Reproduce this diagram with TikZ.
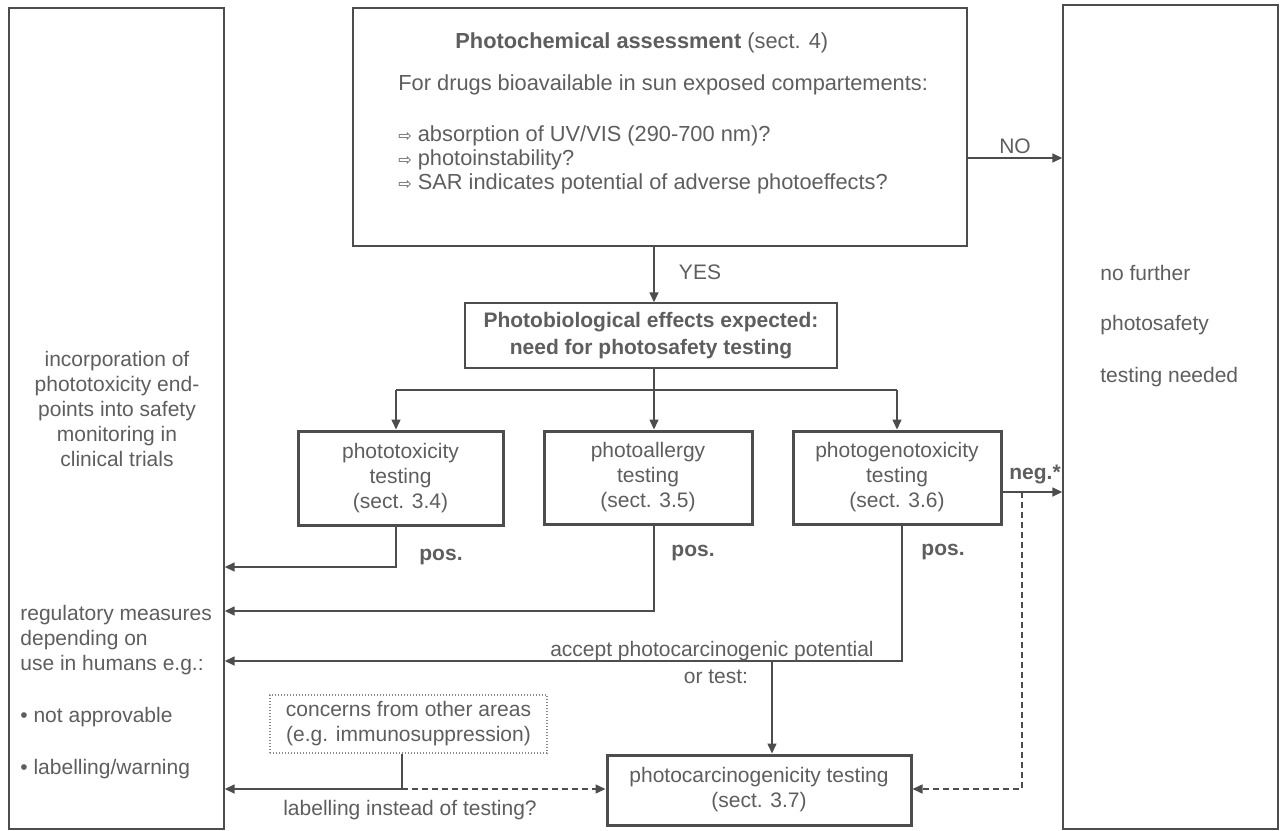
\documentclass[tikz,border=0pt]{standalone}
\usepackage{fontspec}
\setmainfont{Liberation Sans}
\newfontfamily\dejavu{DejaVu Sans}
\usetikzlibrary{arrows.meta}
\definecolor{ln}{HTML}{4D4D4D}
\definecolor{tx}{HTML}{5E5E5E}
\definecolor{dt}{HTML}{8A8A8A}
\begin{document}
\begin{tikzpicture}[x=0.5pt,y=-0.5pt,
  every node/.style={font=\fontsize{10.5}{12.5}\selectfont, text=tx, inner sep=0pt},
  box/.style={draw=ln, line width=0.7pt},
  tbox/.style={draw=ln, line width=1.5pt, align=center},
  dotbox/.style={draw=dt, line width=0.6pt, dash pattern=on 0.6pt off 0.9pt, align=center},
  conn/.style={draw=ln, line width=0.75pt},
  arr/.style={conn, -{Triangle[length=5pt,width=4.5pt]}},
  darr/.style={arr, dash pattern=on 3pt off 2pt},
  lbl/.style={font=\fontsize{10.5}{12.5}\selectfont\bfseries},
  bul/.style={anchor=west},
  top/.style={anchor=west, font=\fontsize{10.9}{12.5}\selectfont},
]
\useasboundingbox[fill=white] (0,0) rectangle (1282,831);

% main boxes
\node[box, minimum width=107.5pt, minimum height=410.5pt] (L) at (116.5,418.5) {};
\node[box, minimum width=107.5pt, minimum height=412pt] (R) at (1170.5,417) {};
\node[box, minimum width=307pt, minimum height=119pt] (T) at (660,127) {};
\node[box, minimum width=186pt, minimum height=32.5pt, align=center, font=\fontsize{10.5}{13.5}\selectfont\bfseries] (P) at (651,335.5) {Photobiological effects expected:\\need for photosafety testing};
\node[tbox, minimum width=102.5pt, minimum height=47pt] (A) at (400.5,478) {phototoxicity\\testing\\(sect. 3.4)};
\node[tbox, minimum width=104pt, minimum height=46.5pt] (B) at (648,477.5) {photoallergy\\testing\\(sect. 3.5)};
\node[tbox, minimum width=104pt, minimum height=46.5pt] (C) at (897,477.5) {photogenotoxicity\\testing\\(sect. 3.6)};
\node[tbox, minimum width=152pt, minimum height=35pt] (D) at (759,790) {photocarcinogenicity testing\\(sect. 3.7)};
\node[dotbox, minimum width=138.5pt, minimum height=29pt] (E) at (408.5,724) {concerns from other areas\\(e.g. immunosuppression)};

% top box text
\node[top] (t1) at (455,43) {\textbf{Photochemical assessment} (sect. 4)};
\node[top] (t2) at (398,85) {For drugs bioavailable in sun exposed compartements:};
\node[top] (t3) at (398,136) {{\dejavu\fontsize{8}{10}\selectfont ⇨} absorption of UV/VIS (290-700 nm)?};
\node[top] (t4) at (398,160) {{\dejavu\fontsize{8}{10}\selectfont ⇨} photoinstability?};
\node[top] (t5) at (398,184) {{\dejavu\fontsize{8}{10}\selectfont ⇨} SAR indicates potential of adverse photoeffects?};

% left box text
\node[align=center] (l1) at (117,409) {incorporation of\\phototoxicity end-\\points into safety\\monitoring in\\clinical trials};
\node[bul] (l2) at (20,615) {regulatory measures};
\node[bul] (l3) at (20,640) {depending on};
\node[bul] (l4) at (20,665) {use in humans e.g.:};
\node[bul] (l5) at (20,717) {\textbullet{} not approvable};
\node[bul] (l6) at (20,769) {\textbullet{} labelling/warning};

% right box text
\node[bul] (r1) at (1100,273) {no further};
\node[bul] (r2) at (1100,325) {photosafety};
\node[bul] (r3) at (1100,377) {testing needed};

% coordinates
\coordinate (yno) at (0,158);
\coordinate (xyes) at (654,0);
\coordinate (split) at (654,390);
\coordinate (sa) at (396,390);
\coordinate (sc) at (897,390);
\coordinate (pa) at (396,567);
\coordinate (pb) at (654,611);
\coordinate (pc) at (902,661);
\coordinate (pd) at (772,661);
\coordinate (ng) at (0,492);
\coordinate (nd) at (1022,492);
\coordinate (ce) at (402,789);

% connectors
\draw[arr] (T.east |- yno) -- (R.west |- yno);
\draw[arr] (T.south -| xyes) -- (P.north -| xyes);
\draw[conn] (P.south -| split) -- (split);
\draw[conn] (sa) -- (sc);
\draw[arr] (sa) -- (A.north -| sa);
\draw[arr] (split) -- (B.north -| split);
\draw[arr] (sc) -- (C.north -| sc);
\draw[arr] (A.south -| pa) |- (L.east |- pa);
\draw[arr] (B.south -| pb) |- (L.east |- pb);
\draw[arr] (C.south -| pc) |- (L.east |- pc);
\draw[arr] (pd) -- (D.north -| pd);
\draw[arr] (C.east |- ng) -- (R.west |- ng);
\draw[darr] (nd) |- (D.east |- ce);
\draw[conn] (E.south -| ce) -- (ce);
\draw[arr] (ce) -- (L.east |- ce);
\draw[darr] (ce) -- (D.west |- ce);

% labels
\node (no) at (1015,146) {NO};
\node (yes) at (700,272) {YES};
\node[lbl] (pos1) at (441,557) {pos.};
\node[lbl] (pos2) at (693,553) {pos.};
\node[lbl] (pos3) at (943,552) {pos.};
\node[lbl] (neg) at (1035,474) {neg.*};
\node (acc) at (712,651) {accept photocarcinogenic potential};
\node (ort) at (716,677) {or test:};
\node (lab) at (410,810) {labelling instead of testing?};
\end{tikzpicture}
\end{document}
